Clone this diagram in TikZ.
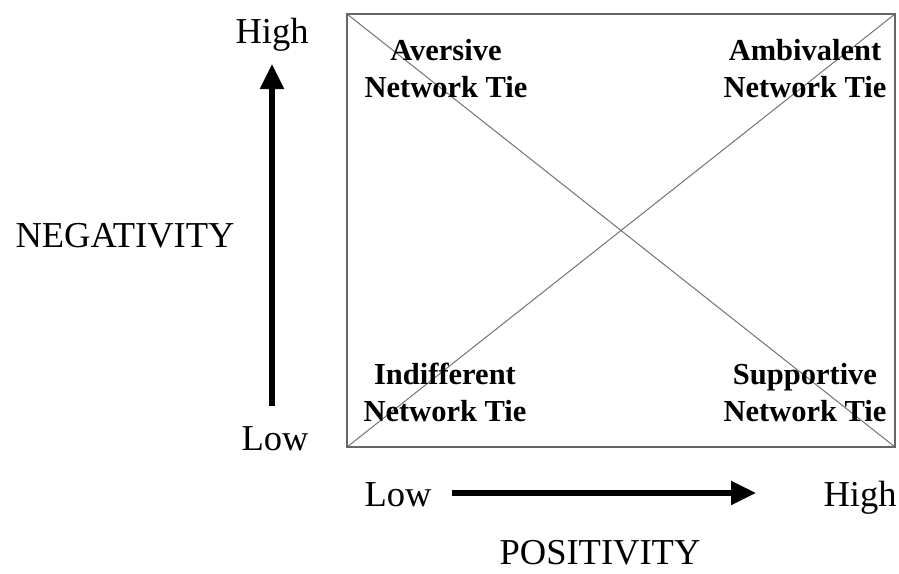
\documentclass[tikz,border=0pt]{standalone}
\usepackage{fontspec}
\setmainfont{Liberation Serif}
\usetikzlibrary{arrows.meta}
\begin{document}
\begin{tikzpicture}[x=1pt,y=-1pt,
  lbl/.style={font=\fontsize{36.5}{40}\selectfont, inner sep=0pt, anchor=base},
  quad/.style={font=\fontsize{30.5}{36.5}\selectfont\bfseries, align=center, inner sep=0pt, anchor=base},
  axis/.style={line width=5.5pt, -{Triangle[length=25pt,width=23pt]}},
  frame/.style={draw=black!60, line width=1.8pt},
  diag/.style={draw=black!55, line width=1pt}]
\useasboundingbox (0,0) rectangle (899,573);
% box
\coordinate (tl) at (347,14);
\coordinate (tr) at (895,14);
\coordinate (bl) at (347,447);
\coordinate (br) at (895,447);
\draw[diag] (tl) -- (br);
\draw[diag] (bl) -- (tr);
\draw[frame] (tl) rectangle (br);
% quadrant labels (base = last line baseline)
\node[quad] (av) at (446,97) {Aversive\\Network Tie};
\node[quad] (am) at (805,97) {Ambivalent\\Network Tie};
\node[quad] (in) at (445,421) {Indifferent\\Network Tie};
\node[quad] (su) at (805,421) {Supportive\\Network Tie};
% vertical axis
\node[lbl] (vh) at (272,43) {High};
\node[lbl] (vl) at (275,450) {Low};
\node[lbl] (neg) at (125,247) {NEGATIVITY};
\coordinate (vs) at (272,406);
\coordinate (ve) at (272,64);
\draw[axis] (vs) -- (ve);
% horizontal axis
\node[lbl] (hl) at (398,506) {Low};
\node[lbl] (hh) at (860,506) {High};
\node[lbl] (pos) at (600,564) {POSITIVITY};
\coordinate (hs) at (452,493);
\coordinate (he) at (756,493);
\draw[axis] (hs) -- (he);
\end{tikzpicture}
\end{document}
